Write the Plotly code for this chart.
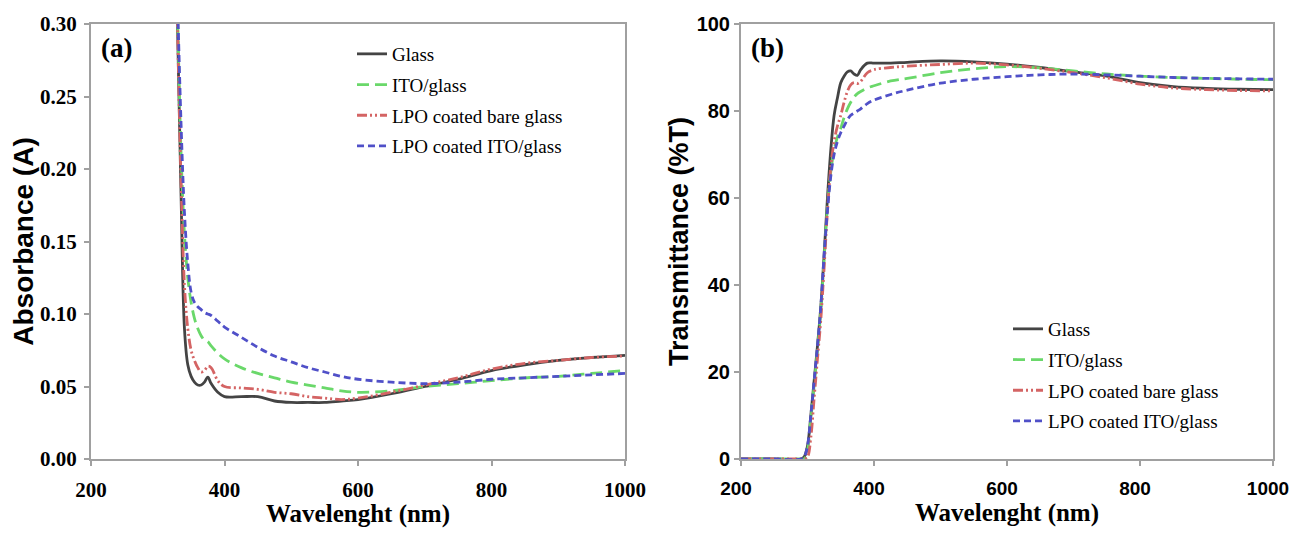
import plotly.graph_objects as go

# ---------------- data: panel (a) absorbance ----------------
wl_a = [325, 330, 335, 340, 345, 350, 355, 360, 365, 370, 375, 380, 390, 400,
        425, 450, 475, 500, 525, 550, 575, 600, 650, 700, 750, 800, 850, 900,
        950, 1000]
abs_glass = [0.40, 0.29, 0.18, 0.09, 0.065, 0.057, 0.053, 0.051, 0.051, 0.053,
             0.0565, 0.052, 0.046, 0.043, 0.043, 0.043, 0.040, 0.039, 0.039,
             0.039, 0.040, 0.041, 0.045, 0.050, 0.055, 0.061, 0.065, 0.068,
             0.070, 0.0715]
abs_ito = [0.40, 0.30, 0.21, 0.155, 0.125, 0.108, 0.097, 0.090, 0.085, 0.082,
           0.081, 0.078, 0.073, 0.069, 0.063, 0.059, 0.056, 0.053, 0.051,
           0.049, 0.047, 0.046, 0.047, 0.050, 0.052, 0.054, 0.056, 0.057,
           0.059, 0.061]
abs_lpo_bare = [0.40, 0.29, 0.19, 0.12, 0.09, 0.075, 0.068, 0.063, 0.060,
                0.061, 0.064, 0.063, 0.054, 0.050, 0.049, 0.048, 0.046, 0.045,
                0.043, 0.042, 0.041, 0.042, 0.046, 0.051, 0.056, 0.062, 0.066,
                0.068, 0.070, 0.071]
abs_lpo_ito = [0.40, 0.31, 0.23, 0.17, 0.135, 0.115, 0.108, 0.105, 0.103,
               0.101, 0.100, 0.099, 0.095, 0.091, 0.084, 0.077, 0.071, 0.067,
               0.063, 0.060, 0.057, 0.055, 0.053, 0.052, 0.053, 0.055, 0.056,
               0.057, 0.058, 0.059]

# ---------------- data: panel (b) transmittance ----------------
wl_b = [200, 250, 290, 295, 300, 305, 310, 315, 320, 325, 330, 335, 340, 345,
        350, 355, 360, 365, 370, 375, 380, 390, 400, 425, 450, 500, 550, 600,
        650, 700, 750, 800, 850, 900, 950, 1000]
tr_glass = [0, 0, 0, 0.5, 3, 10, 18, 26, 35, 47, 60, 71, 79, 83, 86.5, 88, 89,
            89.2, 88.5, 88.2, 89.5, 91, 91, 91, 91.2, 91.5, 91.3, 90.8, 90, 89,
            88, 86.5, 85.6, 85.2, 85, 84.9]
tr_ito = [0, 0, 0, 0, 2, 9, 17, 25, 34, 46, 58, 66, 71, 74, 76, 78.5, 80.5, 82,
          83.2, 84, 84.5, 85.3, 85.8, 86.9, 87.5, 88.8, 89.7, 90.2, 89.9, 89.2,
          88.5, 88, 87.7, 87.5, 87.3, 87.2]
tr_lpo_bare = [0, 0, 0, 0, 0.5, 5, 14, 23, 32, 44, 57, 67, 73, 76.5, 79, 82,
               84.5, 86, 86.5, 86.3, 86.8, 88.8, 89.5, 90, 90.3, 90.7, 91,
               90.6, 89.8, 88.8, 87.6, 86.2, 85.3, 84.9, 84.7, 84.6]
tr_lpo_ito = [0, 0, 0, 0.5, 3, 10, 18, 26, 35, 47, 57, 65, 70, 73, 75, 76.5,
              78, 79, 79.5, 80, 80.5, 81.7, 82.5, 83.8, 84.8, 86.4, 87.3, 87.9,
              88.3, 88.5, 88.3, 88, 87.7, 87.5, 87.4, 87.3]

series_names = ["Glass", "ITO/glass", "LPO coated bare glass", "LPO coated ITO/glass"]
x_ticks = [200, 400, 600, 800, 1000]
ya_ticks = [0.00, 0.05, 0.10, 0.15, 0.20, 0.25, 0.30]
yb_ticks = [0, 20, 40, 60, 80, 100]

styles = [
    dict(color="#444444", width=2.8, dash="solid"),
    dict(color="#6ad86a", width=2.8, dash="12px,6px"),
    dict(color="#d46464", width=2.8, dash="10px,3px,2px,3px,2px,3px"),
    dict(color="#5050c8", width=2.8, dash="7px,4px"),
]

fig = go.Figure()
for name, ys, st in zip(series_names, [abs_glass, abs_ito, abs_lpo_bare, abs_lpo_ito], styles):
    fig.add_trace(go.Scatter(x=wl_a, y=ys, mode="lines", name=name, line=st,
                             line_shape="spline", xaxis="x", yaxis="y",
                             legend="legend", legendgroup="a" + name))
for name, ys, st in zip(series_names, [tr_glass, tr_ito, tr_lpo_bare, tr_lpo_ito], styles):
    fig.add_trace(go.Scatter(x=wl_b, y=ys, mode="lines", name=name, line=st,
                             line_shape="spline", xaxis="x2", yaxis="y2",
                             legend="legend2", legendgroup="b" + name))

serif = "Liberation Serif"
sans = "Liberation Sans"
axcol = "#a0a0a0"

# page body has an 8px margin: lay the figure out in page pixels minus that
OFF = 8
W, H = 1299 - 2 * OFF, 536 - 2 * OFF


def px_x(p):
    return (p - OFF) / W


def px_y(p):
    return 1 - (p - OFF) / H


common_axis = dict(showline=True, linecolor=axcol, linewidth=2, mirror=True,
                   ticks="outside", tickcolor=axcol, ticklen=5, tickwidth=2,
                   showgrid=False, zeroline=False, automargin=False,
                   ticklabeloverflow="allow")

fig.update_layout(
    width=W, height=H,
    margin=dict(l=0, r=0, t=0, b=0),
    paper_bgcolor="white", plot_bgcolor="white",
    xaxis=dict(domain=[px_x(91), px_x(625)], range=[200, 1000], tickvals=x_ticks,
               tickfont=dict(family=serif, size=21, color="black", weight="bold"),
               ticklabelstandoff=6,
               title=dict(text="<b>Wavelenght (nm)</b>", font=dict(family=serif, size=25, color="black"), standoff=6),
               anchor="y", **common_axis),
    yaxis=dict(domain=[px_y(459), px_y(24)], range=[0, 0.30], tickvals=ya_ticks,
               tickformat=".2f", ticklabelstandoff=3,
               tickfont=dict(family=serif, size=21, color="black", weight="bold"),
               title=dict(text="<b>Absorbance (A)</b>", font=dict(family=sans, size=28, color="black"), standoff=3),
               anchor="x", **common_axis),
    xaxis2=dict(domain=[px_x(741), px_x(1273)], range=[200, 1000], tickvals=x_ticks,
                tickfont=dict(family=sans, size=19, color="black", weight="bold"),
                ticklabelstandoff=6, ticklabelshift=-5,
                title=dict(text="<b>Wavelenght (nm)</b>", font=dict(family=serif, size=25, color="black"), standoff=6),
                anchor="y2", **common_axis),
    yaxis2=dict(domain=[px_y(459), px_y(24)], range=[0, 100], tickvals=yb_ticks,
                tickfont=dict(family=sans, size=20, color="black", weight="bold"),
                title=dict(text="<b>Transmittance (%T)</b>", font=dict(family=sans, size=27, color="black"), standoff=0),
                anchor="x2", **common_axis),
    legend=dict(x=px_x(352), y=px_y(35), xanchor="left", yanchor="top",
                bgcolor="rgba(0,0,0,0)", tracegroupgap=3,
                font=dict(family=serif, size=19, color="black")),
    legend2=dict(x=px_x(1008), y=px_y(310), xanchor="left", yanchor="top",
                 bgcolor="rgba(0,0,0,0)", tracegroupgap=3,
                 font=dict(family=serif, size=19, color="black")),
    annotations=[
        dict(text="<b>(a)</b>", xref="x domain", yref="y domain", x=0.015, y=0.985,
             xanchor="left", yanchor="top", showarrow=False,
             font=dict(family=serif, size=27, color="black")),
        dict(text="<b>(b)</b>", xref="x2 domain", yref="y2 domain", x=0.015, y=0.985,
             xanchor="left", yanchor="top", showarrow=False,
             font=dict(family=serif, size=27, color="black")),
    ],
)

fig.write_html("out.html")
